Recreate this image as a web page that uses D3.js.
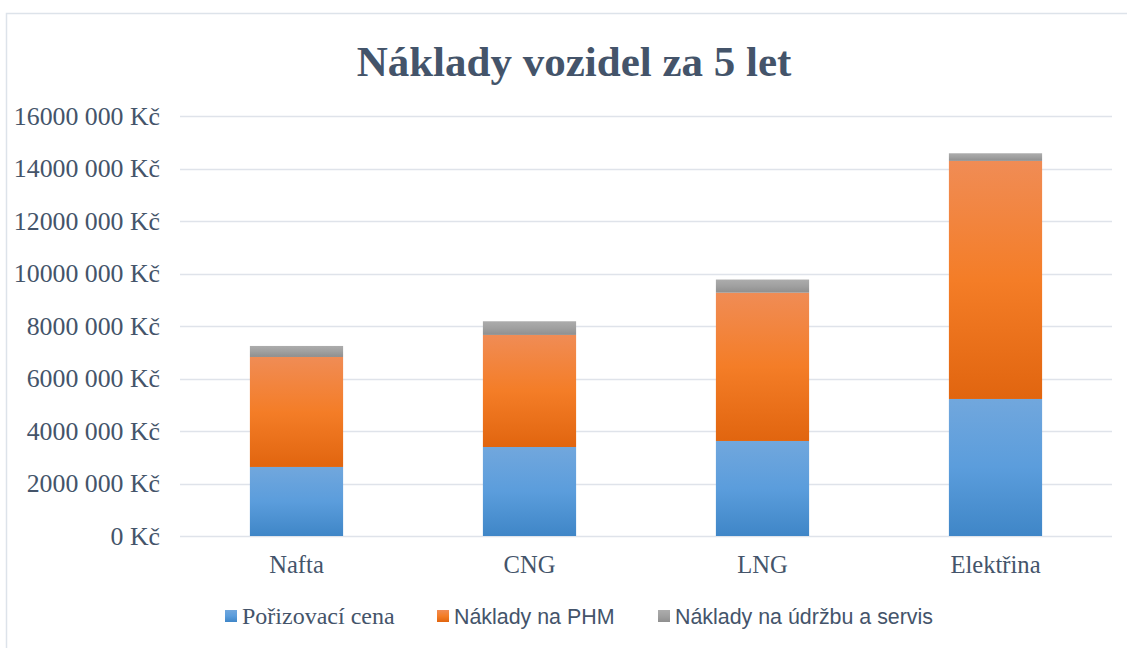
<!DOCTYPE html>
<html>
<head>
<meta charset="utf-8">
<script src="https://cdn.jsdelivr.net/npm/d3@7"></script>
<style>
  html, body { margin: 0; padding: 0; background: #fff; }
  svg { display: block; }
</style>
</head>
<body>
<svg id="chart" width="1127" height="648"></svg>
<script>
// Vehicle cost categories
const categories = ["Nafta", "CNG", "LNG", "Elektřina"];
// Cost components (Kč)
const purchase = [2630000, 3390000, 3620000, 5220000];
const fuel = [4190000, 4270000, 5650000, 9070000];
const service = [420000, 520000, 500000, 290000];
const seriesNames = ["Pořizovací cena", "Náklady na PHM", "Náklady na údržbu a servis"];
const tickValues = [0, 2000000, 4000000, 6000000, 8000000, 10000000, 12000000, 14000000, 16000000];
const tickLabels = ["0 Kč", "2000 000 Kč", "4000 000 Kč", "6000 000 Kč", "8000 000 Kč",
  "10000 000 Kč", "12000 000 Kč", "14000 000 Kč", "16000 000 Kč"];

const svg = d3.select("#chart");
const W = 1127, H = 648;
const margin = { left: 180, right: 15, top: 116, bottom: 112 };
const textColor = "#44546a";
const serif = "'Liberation Serif', 'Times New Roman', serif";
const sans = "'Liberation Sans', Arial, sans-serif";

// Gradients for each series
const defs = svg.append("defs");
const grads = [
  ["g0", "#71a7dd", "#5b9ddc", "#3f86c7"],
  ["g1", "#f08c55", "#f47d27", "#e1650f"],
  ["g2", "#acacac", "#a0a0a0", "#8f8f8f"]
];
grads.forEach(([id, top, mid, bottom]) => {
  const g = defs.append("linearGradient").attr("id", id)
    .attr("x1", 0).attr("y1", 0).attr("x2", 0).attr("y2", 1);
  g.append("stop").attr("offset", "0%").attr("stop-color", top);
  g.append("stop").attr("offset", "50%").attr("stop-color", mid);
  g.append("stop").attr("offset", "100%").attr("stop-color", bottom);
});

// Chart frame
svg.append("rect").attr("x", 6.5).attr("y", 13.5).attr("width", W + 20).attr("height", H + 20)
  .attr("fill", "#fff").attr("stroke", "#dde3ea").attr("stroke-width", 1.5);

const x = d3.scaleBand().domain(categories)
  .range([margin.left, W - margin.right]).paddingInner(0.6).paddingOuter(0.3);
const y = d3.scaleLinear().domain([0, 16000000]).range([H - margin.bottom, margin.top]);

// Gridlines
svg.append("g").selectAll("line").data(tickValues).join("line")
  .attr("x1", margin.left).attr("x2", W - margin.right)
  .attr("y1", d => Math.round(y(d)) + 0.5).attr("y2", d => Math.round(y(d)) + 0.5)
  .attr("stroke", "#dfe3ea").attr("stroke-width", 1.5);

// Y axis
const yAxis = d3.axisLeft(y).tickValues(tickValues)
  .tickFormat((d, i) => tickLabels[i]).tickSize(0).tickPadding(20);
const yg = svg.append("g").attr("transform", `translate(${margin.left},0)`).call(yAxis);
yg.select(".domain").remove();
yg.selectAll("text").attr("font-family", serif).attr("font-size", 25.8).attr("fill", textColor);

// X axis
const xAxis = d3.axisBottom(x).tickSize(0).tickPadding(20);
const xg = svg.append("g").attr("transform", `translate(0,${H - margin.bottom})`).call(xAxis);
xg.select(".domain").remove();
xg.selectAll("text").attr("font-family", serif).attr("font-size", 24.6).attr("fill", textColor);

// Stacked bars
const rows = categories.map((c, i) => ({ cat: c, s0: purchase[i], s1: fuel[i], s2: service[i] }));
const stack = d3.stack().keys(["s0", "s1", "s2"])(rows);
svg.append("g").selectAll("g").data(stack).join("g")
  .attr("fill", (d, i) => `url(#g${i})`)
  .selectAll("rect").data(d => d).join("rect")
  .attr("x", d => x(d.data.cat))
  .attr("width", x.bandwidth())
  .attr("y", d => y(d[1]))
  .attr("height", d => y(d[0]) - y(d[1]));

// Title
svg.append("text").attr("x", 574).attr("y", 76).attr("text-anchor", "middle")
  .attr("font-family", serif).attr("font-weight", "bold").attr("font-size", 43)
  .attr("fill", textColor).text("Náklady vozidel za 5 let");

// Legend
const legendX = [225, 437, 658];
const legendFonts = [serif, sans, sans];
const legendSizes = [24, 21.4, 21.4];
const legend = svg.append("g");
seriesNames.forEach((name, i) => {
  legend.append("rect").attr("x", legendX[i]).attr("y", 610).attr("width", 12).attr("height", 12)
    .attr("fill", `url(#g${i})`);
  legend.append("text").attr("x", legendX[i] + 17).attr("y", 624)
    .attr("font-family", legendFonts[i]).attr("font-size", legendSizes[i])
    .attr("fill", textColor).text(name);
});
</script>
</body>
</html>
